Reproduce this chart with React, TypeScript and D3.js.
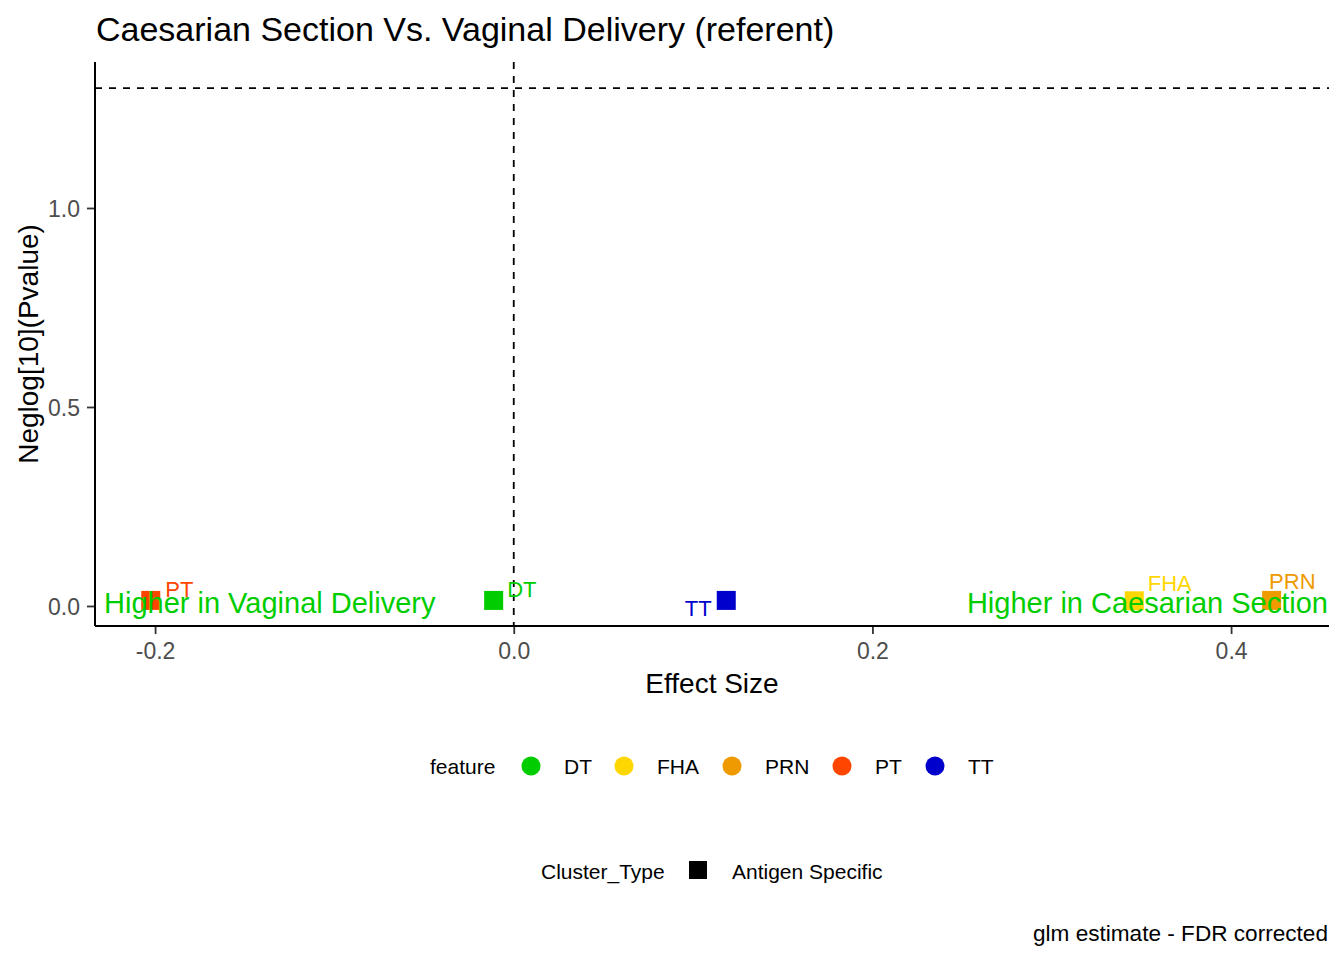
import { useEffect, useRef } from 'react';
import * as d3 from 'd3';

// data
const features = ['DT', 'FHA', 'PRN', 'PT', 'TT'];
const featureColors = ['#00CD00', '#FFD700', '#EE9A00', '#FF4500', '#0000CD'];
const effectSize = [-0.0112, 0.346, 0.4226, -0.2024, 0.1185];
const neglogP = [0.014, 0.013, 0.014, 0.014, 0.014];
// label nudge (px) chosen by ggrepel in the original
const labelDx = [13.5, 13.5, -2.5, 14.5, -14.5];
const labelDy = [-3.5, -10, -11.5, -3.5, 16];
const labelAnchor = ['start', 'start', 'start', 'start', 'end'];
const xTicks = [-0.2, 0.0, 0.2, 0.4];
const yTicks = [0.0, 0.5, 1.0];
const xDomain: [number, number] = [-0.2335, 0.4546];
const yDomain: [number, number] = [-0.0503, 1.3668];
const pThreshold = -Math.log10(0.05);

const FONT = '"Liberation Sans", Arial, sans-serif';

export default function App() {
  const svgRef = useRef<SVGSVGElement>(null);
  const width = 1344;
  const height = 960;

  useEffect(() => {
    const svg = d3.select(svgRef.current);
    svg.selectAll('*').remove();

    const margin = { top: 62, right: 15, bottom: 334, left: 95 };
    const innerWidth = width - margin.left - margin.right;
    const innerHeight = height - margin.top - margin.bottom;

    const xScale = d3.scaleLinear().domain(xDomain).range([0, innerWidth]);
    const yScale = d3.scaleLinear().domain(yDomain).range([innerHeight, 0]);

    svg.append('rect').attr('width', width).attr('height', height).attr('fill', 'white');

    // Title
    svg.append('text')
      .attr('x', margin.left + 1)
      .attr('y', 41)
      .style('font-family', FONT)
      .style('font-size', '34px')
      .style('fill', '#000')
      .text('Caesarian Section Vs. Vaginal Delivery (referent)');

    const g = svg.append('g')
      .attr('transform', `translate(${margin.left},${margin.top})`);

    // reference lines
    g.append('line')
      .attr('x1', 0).attr('x2', innerWidth)
      .attr('y1', yScale(pThreshold)).attr('y2', yScale(pThreshold))
      .attr('stroke', '#000').attr('stroke-width', 1.8)
      .attr('stroke-dasharray', '7,7');
    g.append('line')
      .attr('x1', xScale(0)).attr('x2', xScale(0))
      .attr('y1', 0).attr('y2', innerHeight)
      .attr('stroke', '#000').attr('stroke-width', 1.8)
      .attr('stroke-dasharray', '7,7');

    // points
    const pts = features.map((f, i) => ({
      f, color: featureColors[i], x: effectSize[i], y: neglogP[i],
      dx: labelDx[i], dy: labelDy[i], anchor: labelAnchor[i],
    }));
    const sq = 19;
    g.selectAll('.pt')
      .data(pts)
      .enter().append('rect')
      .attr('class', 'pt')
      .attr('x', d => xScale(d.x) - sq / 2)
      .attr('y', d => yScale(d.y) - sq / 2)
      .attr('width', sq).attr('height', sq)
      .attr('fill', d => d.color);

    // region annotations
    g.append('text')
      .attr('x', 9)
      .attr('y', yScale(0) + 7)
      .style('font-family', FONT)
      .style('font-size', '29px')
      .style('fill', '#00CD00')
      .text('Higher in Vaginal Delivery');
    g.append('text')
      .attr('x', innerWidth - 1)
      .attr('y', yScale(0) + 7)
      .attr('text-anchor', 'end')
      .style('font-family', FONT)
      .style('font-size', '29px')
      .style('fill', '#00CD00')
      .text('Higher in Caesarian Section');

    // point labels
    g.selectAll('.lbl')
      .data(pts)
      .enter().append('text')
      .attr('class', 'lbl')
      .attr('x', d => xScale(d.x) + d.dx)
      .attr('y', d => yScale(d.y) + d.dy)
      .attr('text-anchor', d => d.anchor)
      .style('font-family', FONT)
      .style('font-size', '22px')
      .style('fill', d => d.color)
      .text(d => d.f);

    // axes
    const fmt = (d: any) => (+d).toFixed(1);
    const xAxis = g.append('g')
      .attr('transform', `translate(0,${innerHeight})`)
      .call(d3.axisBottom(xScale).tickValues(xTicks).tickFormat(fmt).tickSizeOuter(0).tickSize(8).tickPadding(8));
    const yAxis = g.append('g')
      .call(d3.axisLeft(yScale).tickValues(yTicks).tickFormat(fmt).tickSizeOuter(0).tickSize(8).tickPadding(7));

    [xAxis, yAxis].forEach(ax => {
      ax.select('.domain').remove();
      ax.selectAll('.tick line').attr('stroke', '#333').attr('stroke-width', 1.8);
      ax.selectAll('.tick text')
        .style('font-family', FONT)
        .style('font-size', '23px')
        .style('fill', '#4D4D4D');
    });
    xAxis.selectAll('.tick text').attr('dy', '0.72em');
    yAxis.selectAll('.tick text').attr('dy', '0.36em');

    g.append('line')
      .attr('x1', 0).attr('x2', innerWidth)
      .attr('y1', innerHeight).attr('y2', innerHeight)
      .attr('stroke', '#000').attr('stroke-width', 2);
    g.append('line')
      .attr('x1', 0).attr('x2', 0)
      .attr('y1', 0).attr('y2', innerHeight)
      .attr('stroke', '#000').attr('stroke-width', 2);

    // axis titles
    svg.append('text')
      .attr('x', margin.left + innerWidth / 2)
      .attr('y', 693)
      .attr('text-anchor', 'middle')
      .style('font-family', FONT)
      .style('font-size', '28px')
      .text('Effect Size');
    svg.append('text')
      .attr('transform', `translate(38,${margin.top + innerHeight / 2}) rotate(-90)`)
      .attr('text-anchor', 'middle')
      .style('font-family', FONT)
      .style('font-size', '28px')
      .text('Neglog[10](Pvalue)');

    // feature legend
    const legendX = [531, 624, 732, 842, 935];
    const leg1 = svg.append('g');
    leg1.append('text')
      .attr('x', 430).attr('y', 774)
      .style('font-family', FONT).style('font-size', '21px')
      .text('feature');
    features.forEach((f, i) => {
      leg1.append('circle')
        .attr('cx', legendX[i]).attr('cy', 766)
        .attr('r', 9.5)
        .attr('fill', featureColors[i]);
      leg1.append('text')
        .attr('x', legendX[i] + 33).attr('y', 774)
        .style('font-family', FONT).style('font-size', '21px')
        .text(f);
    });

    // cluster type legend
    const leg2 = svg.append('g');
    leg2.append('text')
      .attr('x', 541).attr('y', 879)
      .style('font-family', FONT).style('font-size', '21px')
      .text('Cluster_Type');
    leg2.append('rect')
      .attr('x', 689).attr('y', 861)
      .attr('width', 18).attr('height', 18)
      .attr('fill', '#000');
    leg2.append('text')
      .attr('x', 732).attr('y', 879)
      .style('font-family', FONT).style('font-size', '21px')
      .text('Antigen Specific');

    // caption
    svg.append('text')
      .attr('x', 1328).attr('y', 941)
      .attr('text-anchor', 'end')
      .style('font-family', FONT).style('font-size', '22.6px')
      .text('glm estimate - FDR corrected');
  }, []);

  return (
    <svg
      ref={svgRef}
      width={width}
      height={height}
      style={{ position: 'absolute', left: 0, top: 0, display: 'block' }}
    />
  );
}
